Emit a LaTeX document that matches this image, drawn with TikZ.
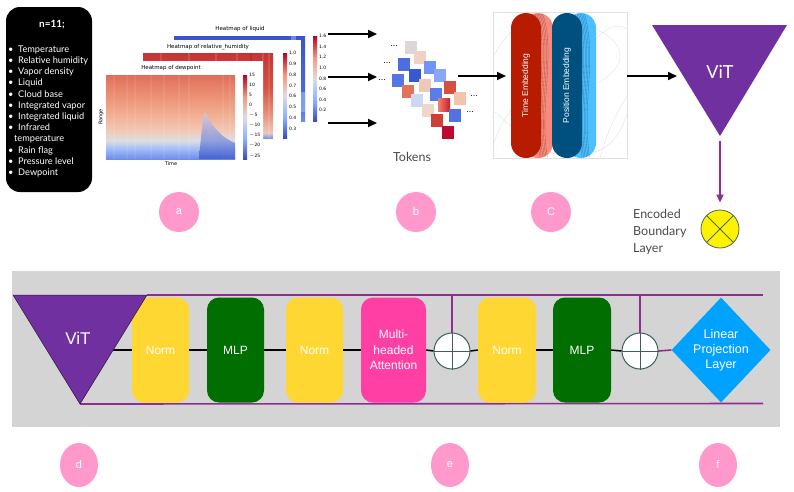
\documentclass[tikz,border=0pt]{standalone}
\usepackage{fontspec}
\setmainfont{Liberation Sans}
\newfontfamily\gill{Lato}
\newfontfamily\mpl{DejaVu Sans}
\usetikzlibrary{shapes.geometric,arrows.meta}
\definecolor{vitc}{HTML}{7030A0}
\definecolor{ybox}{HTML}{FFD733}
\definecolor{gbox}{HTML}{006E00}
\definecolor{pbox}{HTML}{FF3FA3}
\definecolor{bdia}{HTML}{00A2FF}
\definecolor{pline}{HTML}{912C94}
\definecolor{panelc}{HTML}{D4D4D4}
\definecolor{pinkc}{HTML}{FF99CC}
\definecolor{plusc}{HTML}{3E5E5E}
\definecolor{txtg}{HTML}{4A4A4A}
\definecolor{pillr}{HTML}{B81C00}
\definecolor{pills}{HTML}{F98A7E}
\definecolor{pillb}{HTML}{00507F}
\definecolor{pilll}{HTML}{4CBFFF}
\definecolor{cwB}{HTML}{3B4CC0}
\definecolor{cwLB}{HTML}{8DB0FE}
\definecolor{cwW}{HTML}{DDDDDD}
\definecolor{cwLR}{HTML}{F49A7B}
\definecolor{cwR}{HTML}{B40426}
\definecolor{xcol}{HTML}{4A6A50}
\definecolor{vitedge}{HTML}{32143C}
\definecolor{liqpatch}{HTML}{96AFF5}
\definecolor{rhdark}{HTML}{B91428}
\definecolor{spikeB}{RGB}{55,80,200}
\definecolor{spikeT}{RGB}{200,212,245}
\definecolor{tkA}{HTML}{DCD7D7}
\definecolor{tkB}{HTML}{F0D2C4}
\definecolor{tkC}{HTML}{4C6EE0}
\definecolor{tkD}{HTML}{7094F5}
\definecolor{tkE}{HTML}{3A58D2}
\definecolor{tkF}{HTML}{8AA6F7}
\definecolor{tkG}{HTML}{5577E6}
\definecolor{tkH}{HTML}{EDC9B8}
\definecolor{tkI}{HTML}{D4503F}
\definecolor{tkJ}{HTML}{E27258}
\definecolor{tkK}{HTML}{5A7DEA}
\definecolor{tkL}{HTML}{F2C4AC}
\definecolor{tkM}{HTML}{CCD8F2}
\definecolor{tkNl}{HTML}{EE826E}
\definecolor{tkNr}{HTML}{C81E2D}
\definecolor{tkO}{HTML}{EFD6CB}
\definecolor{tkP}{HTML}{5272E2}
\definecolor{tkQ}{HTML}{CF3F36}
\definecolor{tkR}{HTML}{BE0A30}
\pgfdeclareverticalshading{coolbar}{100bp}{color(0bp)=(cwB); color(25bp)=(cwB); color(37bp)=(cwLB); color(50bp)=(cwW); color(62bp)=(cwLR); color(75bp)=(cwR); color(100bp)=(cwR)}
\definecolor{dw1}{RGB}{110,140,235}
\definecolor{dw2}{RGB}{150,180,248}
\definecolor{dw3}{RGB}{220,222,228}
\definecolor{dw4}{RGB}{242,200,180}
\definecolor{dw5}{RGB}{240,165,135}
\definecolor{dw6}{RGB}{232,130,105}
\definecolor{dw7}{RGB}{222,110,88}
\pgfdeclareverticalshading{dewshade}{100bp}{color(0bp)=(dw1); color(25bp)=(dw1); color(30bp)=(dw2); color(36bp)=(dw3); color(42bp)=(dw4); color(55bp)=(dw5); color(68bp)=(dw6); color(75bp)=(dw7); color(100bp)=(dw7)}
\definecolor{rh1}{RGB}{120,150,240}
\definecolor{rh2}{RGB}{236,200,186}
\definecolor{rh3}{RGB}{232,140,118}
\definecolor{rh4}{RGB}{212,80,68}
\definecolor{rh5}{RGB}{196,52,54}
\pgfdeclareverticalshading{rhshade}{100bp}{color(0bp)=(rh1); color(25bp)=(rh1); color(28bp)=(rh2); color(40bp)=(rh3); color(55bp)=(rh4); color(75bp)=(rh5); color(100bp)=(rh5)}
\definecolor{lq1}{RGB}{110,140,235}
\definecolor{lq2}{RGB}{80,110,222}
\definecolor{lq3}{RGB}{58,84,204}
\pgfdeclareverticalshading{liqshade}{100bp}{color(0bp)=(lq1); color(25bp)=(lq1); color(35bp)=(lq2); color(75bp)=(lq3); color(100bp)=(lq3)}
\tikzset{
  arr/.style={line width=1.8pt,-{Triangle[length=9pt,width=8pt]}},
  parr/.style={line width=1.6pt,color=pline,-{Triangle[length=8pt,width=7pt]}},
  pl/.style={line width=1.6pt,color=pline},
  bl/.style={line width=1.5pt,color=black},
  blk/.style={rounded corners=12pt,minimum width=57pt,minimum height=105pt,inner sep=0pt,text=white,font=\fontsize{12}{15.5}\selectfont,align=center},
  plus/.style={circle,fill=white,draw=plusc,line width=1pt,minimum size=36pt,inner sep=0pt},
  lbl/.style={circle,fill=pinkc,minimum size=40pt,inner sep=0pt,text=white,font=\fontsize{11}{12}\selectfont},
  lble/.style={ellipse,fill=pinkc,minimum width=38pt,minimum height=44pt,inner sep=0pt,text=white,font=\fontsize{11}{12}\selectfont},
  tok/.style={minimum width=12pt,minimum height=13pt,inner sep=0pt},
  tick/.style={font=\mpl\fontsize{4.5}{5}\selectfont,anchor=west,inner sep=0.5pt},
  htitle/.style={font=\mpl\fontsize{5.5}{6}\selectfont,inner sep=0pt},
  pill/.style={rounded corners=15pt,minimum width=30pt,minimum height=145pt,inner sep=0pt},
  dots/.style={font=\fontsize{9}{9}\selectfont,inner sep=0pt}
}
\begin{document}
\begin{tikzpicture}[x=1pt,y=-1pt]
\useasboundingbox (0,0) rectangle (794,491);

% ---------- variable list box
\node[fill=black,rounded corners=14pt,minimum width=86pt,minimum height=185pt,inner sep=0pt] (vars) at (49,99.5) {};
\node[text=white,font=\gill\bfseries\fontsize{10}{12}\selectfont] (ntitle) at (52,25) {n=11;};
\node[anchor=north west,align=left,inner sep=0pt,text=white,font=\gill\fontsize{9.2}{11.2}\selectfont] (vlist) at (8,45.5)
{\textbullet\ \ Temperature\\ \textbullet\ \ Relative humidity\\ \textbullet\ \ Vapor density\\ \textbullet\ \ Liquid\\ \textbullet\ \ Cloud base\\ \textbullet\ \ Integrated vapor\\ \textbullet\ \ Integrated liquid\\ \textbullet\ \ Infrared\\ \hspace{6pt}temperature\\ \textbullet\ \ Rain flag\\ \textbullet\ \ Pressure level\\ \textbullet\ \ Dewpoint};

% ---------- heatmap of liquid
\fill[white] (166,22) rectangle (334,127);
\node[htitle] (tliq) at (240,29) {Heatmap of liquid};
\node[shading=liqshade,minimum width=131pt,minimum height=85pt,inner sep=0pt] (hliq) at (239.5,78.5) {};
\fill[white,opacity=.3] (291,36) rectangle (296,121);
\fill[liqpatch,opacity=.7] (283,92) rectangle (305,112);
\node[shading=coolbar,minimum width=4pt,minimum height=85pt,inner sep=0pt] (cliq) at (315,78.5) {};
\foreach \v [count=\i from 0] in {1.6,1.4,1.2,1.0,0.8,0.6,0.4,0.2}
  \node[tick] at (318.5,{36+10.6*\i}) {\v};

% ---------- heatmap of relative humidity
\fill[white] (136,40) rectangle (301,144);
\node[htitle] (trh) at (208,47) {Heatmap of relative\_humidity};
\node[shading=rhshade,minimum width=130pt,minimum height=85pt,inner sep=0pt] (hrh) at (208,95.5) {};
\foreach \x in {160,188,215,236,262,268} \fill[white,opacity=.12] (\x,53) rectangle (\x+2,138);
\fill[rhdark,opacity=.4] (250,53) rectangle (252,138);
\node[shading=coolbar,minimum width=4pt,minimum height=85pt,inner sep=0pt] (crh) at (285,95.5) {};
\foreach \v [count=\i from 0] in {1.0,0.9,0.8,0.7,0.6,0.5,0.4,0.3}
  \node[tick] at (288.5,{53+10.8*\i}) {\v};

% ---------- heatmap of dewpoint
\fill[white] (95,61) rectangle (263,168);
\node[htitle] (tdew) at (171,68) {Heatmap of dewpoint};
\node[shading=dewshade,minimum width=129pt,minimum height=84pt,inner sep=0pt] (hdew) at (170.5,117) {};
\foreach \x in {113,126,134,150,163,178,188,222,229} \fill[white,opacity=.08] (\x,75) rectangle (\x+1.5,159);
\shade[top color=spikeT,bottom color=spikeB,opacity=.7] (199,159) .. controls (201,135) and (203,118) .. (205,112) .. controls (210,122) and (218,136) .. (235,143) -- (235,159) -- cycle;
\node[shading=coolbar,minimum width=4pt,minimum height=84pt,inner sep=0pt] (cdew) at (245,117) {};
\foreach \v [count=\i from 0] in {15,10,5,0,$-$5,$-$10,$-$15,$-$20,$-$25}
  \node[tick] at (248.5,{75+10.1*\i}) {\v};
\node[rotate=90,font=\mpl\fontsize{5}{6}\selectfont,inner sep=0pt] (range) at (101,117) {Range};
\node[font=\mpl\fontsize{5}{6}\selectfont,inner sep=0pt] (time) at (171,163.5) {Time};

% ---------- arrows to tokens
\coordinate (h1) at (328,34); \coordinate (k1) at (377,34);
\coordinate (h2) at (328,77); \coordinate (k2) at (377,77);
\coordinate (h3) at (328,123); \coordinate (k3) at (377,123);
\draw[arr] (h1) -- (k1);
\draw[arr] (h2) -- (k2);
\draw[arr] (h3) -- (k3);

% ---------- tokens
\node[tok,fill=tkA] (tk1) at (411,47.5) {};
\node[tok,fill=tkB] (tk2) at (420,57.5) {};
\node[tok,fill=tkC] (tk3) at (404,64.5) {};
\node[tok,fill=tkD] (tk4) at (430,67.5) {};
\node[tok,fill=tkE] (tk5) at (415,75.5) {};
\node[tok,fill=tkF] (tk6) at (440,75.5) {};
\node[tok,fill=tkG] (tk7) at (398,80.5) {};
\node[tok,fill=tkH] (tk8) at (425,85.5) {};
\node[tok,fill=tkI] (tk9) at (450,87.5) {};
\node[tok,fill=tkJ] (tk10) at (408,91.5) {};
\node[tok,fill=tkK] (tk11) at (436,94.5) {};
\node[tok,fill=tkL] (tk12) at (460,98.5) {};
\node[tok,fill=tkM] (tk13) at (417,100.5) {};
\node[tok,left color=tkNl,right color=tkNr] (tk14) at (444,104.5) {};
\node[tok,fill=tkO] (tk15) at (428,110.5) {};
\node[tok,fill=tkP] (tk16) at (455,115.5) {};
\node[tok,fill=tkQ] (tk17) at (437,120.5) {};
\node[tok,fill=tkR] (tk18) at (448,132.5) {};
\node[dots] (d1) at (394,46) {...};
\node[dots] (d2) at (387,63) {...};
\node[dots] (d3) at (382,80) {...};
\node[dots] (d4) at (474,96) {...};
\node[dots] (d5) at (470,112) {...};
\node[font=\gill\fontsize{12.5}{14}\selectfont,text=txtg] (tokens) at (412,157) {Tokens};

% ---------- embedding box
\node[draw=black!12,line width=.6pt,minimum width=134pt,minimum height=146pt,inner sep=0pt] (emb) at (560,85) {};
\begin{scope}
\clip (493,12) rectangle (627,158);
\draw[black!10,line width=.5pt] (492,150) .. controls (510,80) and (560,90) .. (580,60) .. controls (600,30) and (615,20) .. (628,30);
\draw[black!10,line width=.5pt] (492,110) .. controls (520,130) and (540,170) .. (600,150) .. controls (620,140) and (625,120) .. (628,110);
\draw[black!10,line width=.5pt] (560,20) .. controls (640,30) and (640,80) .. (560,95);
\draw[black!10,line width=.5pt] (492,60) .. controls (500,40) and (520,20) .. (540,14);
\draw[black!10,line width=.5pt] (600,158) .. controls (610,120) and (625,100) .. (628,95);
\end{scope}
\node[pill,fill=pills] (timeb) at (538,85.5) {};
\foreach \d in {0,1.5,3,4.5,6,7.5}
  \draw[black,opacity=.35,line width=.3pt] (535+\d,14) .. controls (549+\d,50) and (531+\d,110) .. (540+\d,157);
\node[pill,fill=pillr] (timep) at (526,85.5) {};
\node[pill,fill=pilll] (posb) at (581,85.5) {};
\foreach \d in {0,1.5,3,4.5,6,7.5}
  \draw[black,opacity=.35,line width=.3pt] (577+\d,14) .. controls (590+\d,60) and (574+\d,100) .. (582+\d,157);
\node[pill,fill=pillb] (posp) at (567,85.5) {};
\node[rotate=90,text=white,font=\fontsize{8.5}{9}\selectfont] (tlab) at (timep) {Time Embedding};
\node[rotate=90,text=white,font=\fontsize{8.5}{9}\selectfont] (plab) at (posp) {Position Embedding};

\coordinate (tokR) at (458,76);
\coordinate (embL) at (506,76);
\draw[arr] (tokR) -- (embL);

% ---------- top ViT
\coordinate (vA) at (652,25);
\coordinate (vB) at (787,25);
\coordinate (vC) at (720,136);
\fill[vitc] (vA) -- (vB) -- (vC) -- cycle;
\node[text=white,font=\gill\fontsize{18}{20}\selectfont] (vit1) at (720,72) {ViT};
\coordinate (embR) at (627,76);
\coordinate (vitL) at (677,76);
\draw[arr] (embR) -- (vitL);

% ---------- encoded boundary layer
\node[circle,fill=yellow,draw=xcol,line width=.8pt,minimum size=38pt,inner sep=0pt] (xc) at (720,229) {};
\draw[xcol,line width=.8pt] (xc.north west) -- (xc.south east);
\draw[xcol,line width=.8pt] (xc.north east) -- (xc.south west);
\coordinate (vitBelow) at (720,141);
\draw[parr,shorten >=7pt] (vitBelow) -- (xc.north);
\node[anchor=west,align=left,inner sep=0pt,text=txtg,font=\gill\fontsize{12.5}{17}\selectfont] (enc) at (633,232) {Encoded\\Boundary\\Layer};

% ---------- labels a b c
\node[lbl] (la) at (179,212) {a};
\node[lbl] (lb) at (416,212) {b};
\node[lbl] (lc) at (551,212) {C};

% ---------- bottom panel
\node[fill=panelc,minimum width=768pt,minimum height=156pt,inner sep=0pt] (panel) at (396,349) {};
\coordinate (bA) at (13,295);
\coordinate (bB) at (147,295);
\coordinate (bC) at (80,404);
\coordinate (topR) at (763,295);
\coordinate (botR) at (763,403.5);
\draw[pl] (bB) -- (topR);
\draw[pl] (bC) -- (botR);
\coordinate (vitBR) at (112.6,350);

\node[blk,fill=ybox] (n1) at (160.5,350) {Norm};
\node[blk,fill=gbox] (m1) at (235.5,350) {MLP};
\node[blk,fill=ybox] (n2) at (314.5,350) {Norm};
\node[blk,fill=pbox,minimum width=65pt] (att) at (393.5,350) {Multi-\\headed\\Attention};
\node[plus] (p1) at (452,351) {};
\node[blk,fill=ybox,minimum width=58pt] (n3) at (507,350) {Norm};
\node[blk,fill=gbox,minimum width=58pt] (m2) at (582,350) {MLP};
\node[plus] (p2) at (640,351) {};
\node[diamond,fill=bdia,minimum width=99pt,minimum height=105pt,inner sep=0pt,aspect=1] (lin) at (721,350) {};
\node[text=white,align=center,font=\fontsize{12.5}{15}\selectfont] (lintxt) at (lin) {Linear\\Projection\\Layer};

\draw[bl] (vitBR) -- (n1.west);
\draw[bl] (n1.east) -- (m1.west);
\draw[bl] (m1.east) -- (n2.west);
\draw[bl] (n2.east) -- (att.west);
\draw[bl] (att.east) -- (p1.west);
\draw[bl] (p1.east) -- (n3.west);
\draw[bl] (n3.east) -- (m2.west);
\draw[bl] (m2.east) -- (p2.west);
\draw[pl] (p2.east) -- (lin.west);
\draw[pl] (p1.north |- bB) -- (p1.north);
\draw[pl] (p2.north |- bB) -- (p2.north);
\draw[plusc,line width=1pt] (p1.north) -- (p1.south) (p1.west) -- (p1.east);
\draw[plusc,line width=1pt] (p2.north) -- (p2.south) (p2.west) -- (p2.east);

\fill[vitc,draw=vitedge,line width=.5pt] (bA) -- (bB) -- (bC) -- cycle;
\node[text=white,font=\fontsize{17}{19}\selectfont] (vit2) at (78,338) {ViT};

% ---------- labels d e f
\node[lble] (ld) at (79,465) {d};
\node[lble] (le) at (450,465) {e};
\node[lble] (lf) at (718,465) {f};
\end{tikzpicture}
\end{document}
